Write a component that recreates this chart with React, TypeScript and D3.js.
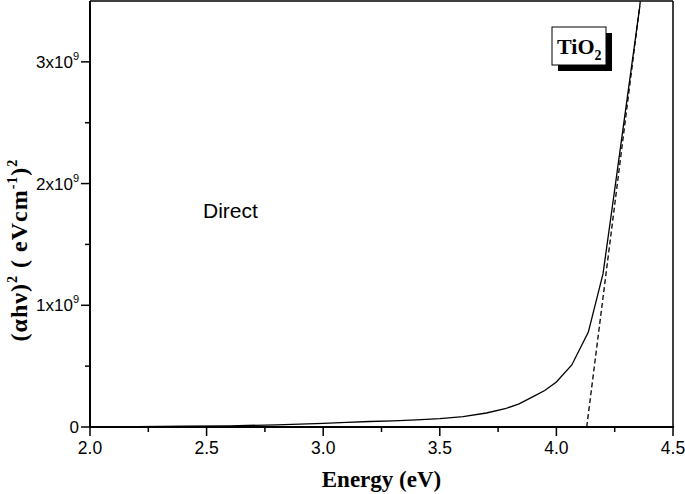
import React from "react";
import * as d3 from "d3";

// absorption edge
const energy = [2.0, 2.2, 2.4, 2.6, 2.8, 3.0, 3.1, 3.2, 3.3, 3.4, 3.5, 3.6, 3.7, 3.78, 3.84, 3.9, 3.95, 4.0, 4.066, 4.137, 4.2, 4.25, 4.3, 4.358];
const ahv2 = [0.0, 0.003, 0.006, 0.01, 0.018, 0.03, 0.038, 0.045, 0.05, 0.058, 0.068, 0.085, 0.115, 0.15, 0.19, 0.25, 0.3, 0.37, 0.51, 0.78, 1.26, 1.95, 2.65, 3.46].map(v => v * 1e9);

// extrapolated tangent (dashed)
const fitX = [4.13, 4.36];
const fitY = [0, 3.5e9];

const xMajor = [2.0, 2.5, 3.0, 3.5, 4.0, 4.5];
const xMinor = [2.25, 2.75, 3.25, 3.75, 4.25];
const yMajor = [0, 1e9, 2e9, 3e9];
const yMinor = [0.5e9, 1.5e9, 2.5e9];

const W = 685;
const H = 494;
const m = { left: 90, right: 12, top: 1, bottom: 67 };

export default function App() {
  const x = d3.scaleLinear().domain([2.0, 4.5]).range([m.left, W - m.right]);
  const y = d3.scaleLinear().domain([0, 3.5e9]).range([H - m.bottom, m.top]);

  const pts: [number, number][] = energy.map((e, i) => [e, ahv2[i]]);
  const curve = d3.line<[number, number]>().x(d => x(d[0])).y(d => y(d[1]))(pts);
  const fit = d3.line<[number, number]>().x(d => x(d[0])).y(d => y(d[1]))(fitX.map((e, i) => [e, fitY[i]]));

  const x0 = x(2.0), x1 = x(4.5), y0 = y(0), y1 = y(3.5e9);
  const sans = "'Liberation Sans', Arial, sans-serif";
  const serif = "'Liberation Serif', 'Times New Roman', serif";

  return (
    <svg width={W} height={H} style={{ position: "absolute", left: 0, top: 0, background: "#fff" }}>
      {/* frame */}
      <line x1={x0} y1={y1} x2={x1} y2={y1} stroke="#000" strokeWidth={1.5} />
      <line x1={x1} y1={y1} x2={x1} y2={y0} stroke="#000" strokeWidth={1.5} />
      <line x1={x0} y1={y0} x2={x1 + 1} y2={y0} stroke="#000" strokeWidth={2} />
      <line x1={x0} y1={y1} x2={x0} y2={y0 + 1} stroke="#000" strokeWidth={2} />

      {/* x ticks */}
      {xMajor.map(t => (
        <g key={"xm" + t}>
          <line x1={x(t)} x2={x(t)} y1={y0} y2={y0 + 9} stroke="#000" strokeWidth={1.5} />
          <text x={x(t)} y={y0 + 27} textAnchor="middle" fontFamily={sans} fontSize={17.5}>{t.toFixed(1)}</text>
        </g>
      ))}
      {xMinor.map(t => (
        <line key={"xn" + t} x1={x(t)} x2={x(t)} y1={y0} y2={y0 + 5} stroke="#000" strokeWidth={1.5} />
      ))}

      {/* y ticks */}
      {yMajor.map(t => (
        <g key={"ym" + t}>
          <line x1={x0 - 9} x2={x0} y1={y(t)} y2={y(t)} stroke="#000" strokeWidth={1.5} />
          <text x={x0 - 11} y={y(t) + 6} textAnchor="end" fontFamily={sans} fontSize={17}>
            {t === 0 ? "0" : (
              <>
                {t / 1e9 + "x10"}
                <tspan fontSize={11} dy={-8}>9</tspan>
              </>
            )}
          </text>
        </g>
      ))}
      {yMinor.map(t => (
        <line key={"yn" + t} x1={x0 - 5} x2={x0} y1={y(t)} y2={y(t)} stroke="#000" strokeWidth={1.5} />
      ))}

      {/* data */}
      <path d={curve ?? ""} fill="none" stroke="#000" strokeWidth={1.3} />
      <path d={fit ?? ""} fill="none" stroke="#000" strokeWidth={1.3} strokeDasharray="5,3" />

      {/* labels */}
      <text x={203} y={218} fontFamily={sans} fontSize={21}>Direct</text>

      <rect x={558} y={33} width={54} height={38} fill="#000" />
      <rect x={552} y={27} width={54} height={38} fill="#fff" stroke="#000" strokeWidth={1} />
      <text x={557} y={54} fontFamily={serif} fontWeight="bold" fontSize={22}>
        TiO<tspan fontSize={14} dy={6}>2</tspan>
      </text>

      <text x={(x0 + x1) / 2} y={487} textAnchor="middle" fontFamily={serif} fontWeight="bold" fontSize={23}>Energy (eV)</text>

      <text transform={`translate(27,250) rotate(-90)`} textAnchor="middle" fontFamily={serif} fontWeight="bold" fontSize={24} letterSpacing={1}>
        (αhν)<tspan fontSize={14} dy={-10}>2</tspan>
        <tspan dy={10}> ( eVcm</tspan>
        <tspan fontSize={14} dy={-10}>-1</tspan>
        <tspan dy={10}>)</tspan>
        <tspan fontSize={14} dy={-10}>2</tspan>
      </text>
    </svg>
  );
}
